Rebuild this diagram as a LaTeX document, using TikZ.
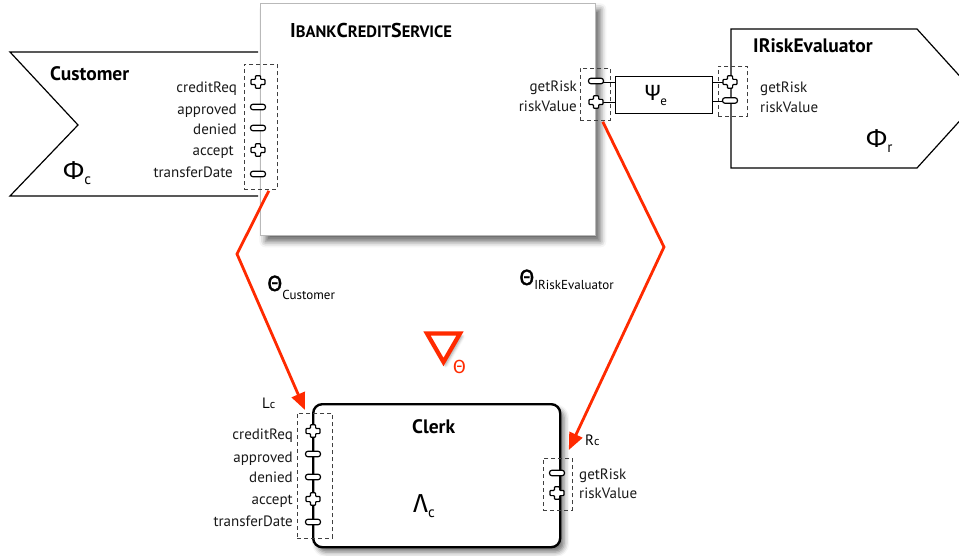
\documentclass[tikz,border=0pt]{standalone}
\usepackage{fontspec}
\setmainfont{PT Sans}
\newfontfamily\grk{Fira Sans}
\usetikzlibrary{arrows.meta,shadows,shadows.blur,calc}
\definecolor{arrowred}{HTML}{FF2A00}
\newcommand{\bigsym}[2]{{\grk\fontsize{26}{26}\selectfont #1}\raisebox{-5pt}{\fontsize{15}{15}\selectfont #2}}
\newcommand{\portlet}[2]{{\fontsize{15}{15}\selectfont #1}{\fontsize{12}{12}\selectfont #2}}
\begin{document}
\begin{tikzpicture}[x=1pt,y=-1pt,
  shapeline/.style={line width=1.2pt, black},
  bankbox/.style={draw=gray!55, line width=0.8pt, fill=white,
     blur shadow={shadow xshift=5pt, shadow yshift=-6pt, shadow blur radius=6pt, shadow opacity=60}},
  clerkbox/.style={draw=black, line width=2.4pt, fill=white, rounded corners=9pt,
     blur shadow={shadow xshift=4pt, shadow yshift=-5pt, shadow blur radius=5pt, shadow opacity=55}},
  pgroup/.style={draw=black!75, dash pattern=on 4pt off 3pt, line width=0.8pt, inner sep=0pt},
  psibox/.style={draw=black, line width=1.2pt, fill=white, inner sep=0pt},
  lbl/.style={font=\fontsize{15}{15}\selectfont, inner sep=0pt, text=black!90},
  ttl/.style={font=\fontsize{19.5}{19.5}\selectfont\bfseries, inner sep=0pt},
  sym/.style={inner sep=0pt},
  redarrow/.style={draw=arrowred, line width=2.8pt, -{Triangle[length=17pt,width=14pt]}},
  pplus/.pic={\draw[line width=1.2pt, fill=white, rounded corners=0.8pt]
     (-2.6,-6.2) -- (2.6,-6.2) -- (2.6,-2.6) -- (7,-2.6) -- (7,2.6) -- (2.6,2.6) -- (2.6,6.2)
     -- (-2.6,6.2) -- (-2.6,2.6) -- (-7,2.6) -- (-7,-2.6) -- (-2.6,-2.6) -- cycle;},
  pminus/.pic={\draw[line width=1.2pt, fill=white, rounded corners=2.6pt] (-7.5,-2.8) rectangle (7.5,2.8);}
]
\useasboundingbox (0,0) rectangle (959,556);

% ---------------- Customer shape
\draw[shapeline] (258,52) -- (10,52) -- (78,125) -- (10,196) -- (258,196);
\node[ttl, anchor=base west] (custtitle) at (50,81) {Customer};
\node[sym, anchor=base west] (phic) at (63,180) {\bigsym{Φ}{c}};

% ---------------- IRiskEvaluator shape
\draw[shapeline] (980,98.5) -- (917,29) -- (731,29) -- (731,168) -- (917,168) -- (980,98.5);
\node[ttl, anchor=base west] (risktitle) at (753,53) {IRiskEvaluator};
\node[sym, anchor=base west] (phir) at (866,148) {\bigsym{Φ}{r}};

% ---------------- IBankCreditService box
\node[bankbox, anchor=north west, minimum width=335pt, minimum height=232pt] (bank) at (260,3) {};
\node[ttl, anchor=base west] (banktitle) at (290,38)
  {{\fontsize{20}{20}\selectfont I}{\fontsize{16.5}{16.5}\selectfont BANK}{\fontsize{20}{20}\selectfont C}{\fontsize{16.5}{16.5}\selectfont REDIT}{\fontsize{20}{20}\selectfont S}{\fontsize{16.5}{16.5}\selectfont ERVICE}};

% ---------------- Clerk box
\node[clerkbox, anchor=north west, minimum width=247pt, minimum height=143pt] (clerk) at (312,403) {};
\node[ttl, anchor=base west] (clerktitle) at (412,433) {Clerk};
\node[sym, anchor=base west] (lambdac) at (413,512) {\bigsym{Λ}{c}};

% ---------------- Customer ports
\node[pgroup, anchor=north west, minimum width=33pt, minimum height=125pt] (custports) at (244,64) {};
\pic at (258,82) {pplus};
\pic at (258,107) {pminus};
\pic at (258,128) {pminus};
\pic at (258,150) {pplus};
\pic at (258,174) {pminus};
\node[lbl, anchor=base east] (c1) at (237,93) {creditReq};
\node[lbl, anchor=base east] (c2) at (237,114.5) {approved};
\node[lbl, anchor=base east] (c3) at (237,135) {denied};
\node[lbl, anchor=base east] (c4) at (234,156) {accept};
\node[lbl, anchor=base east] (c5) at (233,178) {transferDate};

% ---------------- Bank right ports, Psi, IRisk ports
\node[pgroup, anchor=north west, minimum width=30pt, minimum height=52pt] (bankports) at (580,68) {};
\node[psibox, anchor=north west, minimum width=97pt, minimum height=37pt] (psi) at (615,76) {};
\node[sym] (psitext) at (656,96) {{\grk\fontsize{22}{22}\selectfont Ψ}\raisebox{-5pt}{\fontsize{13}{13}\selectfont e}};
\node[pgroup, anchor=north west, minimum width=29pt, minimum height=50pt] (riskports) at (718,66) {};
\draw[line width=0.9pt] (603,82) -- (psi.west |- 0,82);
\draw[line width=0.9pt] (603,102) -- (psi.west |- 0,102);
\draw[line width=0.9pt] (psi.east |- 0,82) -- (724,82);
\draw[line width=0.9pt] (psi.east |- 0,101) -- (724,101);
\pic at (596,81) {pminus};
\pic at (596,102) {pplus};
\pic at (730,82) {pplus};
\pic at (730,100.5) {pminus};
\node[lbl, anchor=base east] (b1) at (577,92) {getRisk};
\node[lbl, anchor=base east] (b2) at (577,112) {riskValue};
\node[lbl, anchor=base west] (r1) at (760,93) {getRisk};
\node[lbl, anchor=base west] (r2) at (760,113) {riskValue};

% ---------------- Clerk ports
\node[pgroup, anchor=north west, minimum width=35pt, minimum height=125pt] (clerkL) at (297,413) {};
\pic at (313,431) {pplus};
\pic at (313,454) {pminus};
\pic at (313,477) {pminus};
\pic at (313,499) {pplus};
\pic at (313,522) {pminus};
\node[lbl, anchor=base east] (l1) at (293,439) {creditReq};
\node[lbl, anchor=base east] (l2) at (293,462) {approved};
\node[lbl, anchor=base east] (l3) at (293,482) {denied};
\node[lbl, anchor=base east] (l4) at (293,504) {accept};
\node[lbl, anchor=base east] (l5) at (293,526) {transferDate};
\node[sym, anchor=base west] (lc) at (262,408) {\portlet{L}{c}};

\node[pgroup, anchor=north west, minimum width=29pt, minimum height=52pt] (clerkR) at (543,458) {};
\pic at (557,473) {pminus};
\pic at (557,493) {pplus};
\node[lbl, anchor=base west] (q1) at (579,479) {getRisk};
\node[lbl, anchor=base west] (q2) at (579,498) {riskValue};
\node[sym, anchor=base west] (rc) at (585,445) {\portlet{R}{c}};

% ---------------- Red mapping arrows
\coordinate (bend1) at (237,254);
\coordinate (bend2) at (664,247);
\draw[redarrow] ($(custports.south east)+(-9,1)$) -- (bend1) -- ($(clerkL.north west)+(8,-3)$);
\draw[redarrow] ($(bankports.south east)+(-8,1)$) -- (bend2) -- ($(clerkR.north east)+(-4,-8)$);

\node[sym, anchor=base west] (thetac) at (267,291)
  {{\grk\fontsize{22}{22}\selectfont\addfontfeatures{FakeBold=1.5}Θ}\raisebox{-9pt}{\fontsize{13}{13}\selectfont Customer}};
\node[sym, anchor=base west] (thetar) at (519,285)
  {{\grk\fontsize{22}{22}\selectfont\addfontfeatures{FakeBold=1.5}Θ}\raisebox{-5pt}{\fontsize{13}{13}\selectfont IRiskEvaluator}};

% ---------------- nabla theta
\draw[draw=arrowred, fill=white, line width=4.2pt, line join=miter,
      blur shadow={shadow xshift=2pt, shadow yshift=-3pt, shadow blur radius=3pt, shadow opacity=40}]
  (427,333.5) -- (460,333.5) -- (443.5,362) -- cycle;
\node[sym, text=arrowred] (nablasub) at (459.5,367) {\grk\fontsize{19}{19}\selectfont Θ};
\end{tikzpicture}
\end{document}
